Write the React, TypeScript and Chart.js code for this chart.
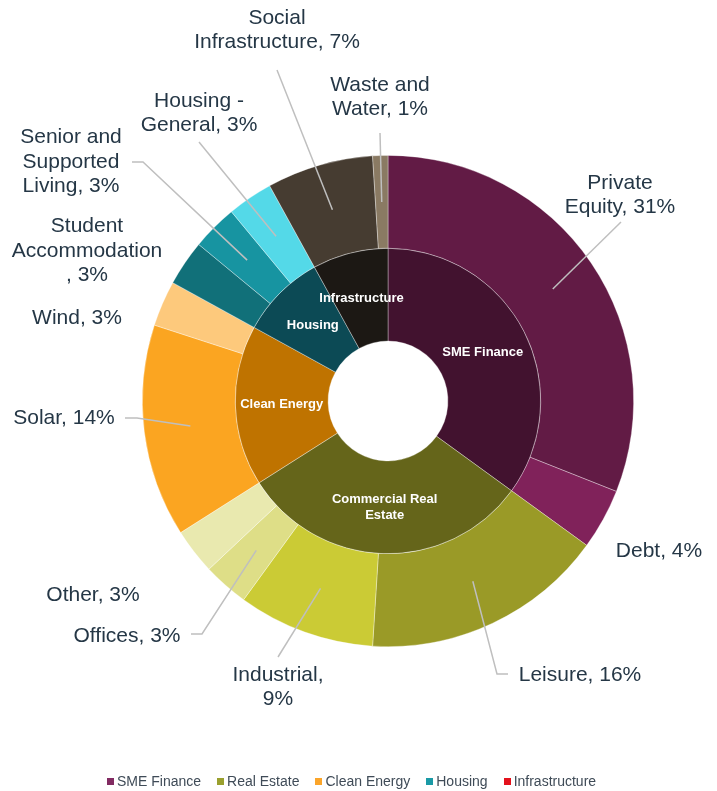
import { useEffect, useRef } from 'react';
import { Chart, registerables } from 'chart.js';
Chart.register(...registerables);

// ---- data ----
const subCategories = [
  'Private Equity', 'Debt', 'Leisure', 'Industrial', 'Offices', 'Other', 'Solar', 'Wind',
  'Student Accommodation', 'Senior and Supported Living', 'Housing - General',
  'Social Infrastructure', 'Waste and Water',
];
const subValues = [31, 4, 16, 9, 3, 3, 14, 3, 3, 3, 3, 7, 1];
const subColors = [
  '#621B45', '#80225A', '#9A9A27', '#CBCB35', '#DEDE87', '#E9E9AF', '#FBA521', '#FDC97C',
  '#117079', '#1794A1', '#54D9E8', '#463C31', '#8A7A63',
];
const categories = ['SME Finance', 'Commercial Real Estate', 'Clean Energy', 'Housing', 'Infrastructure'];
const categoryValues = [35, 31, 17, 9, 8];
const categoryColors = ['#42122F', '#65651A', '#BF7300', '#0C4A55', '#1C1814'];
const legendLabels = ['SME Finance', 'Real Estate', 'Clean Energy', 'Housing', 'Infrastructure'];
const legendColors = ['#822B62', '#9AA02E', '#FBA52A', '#1A9AA6', '#E3121C'];

// ---- layout (label wrapping and placement, relative to chart centre) ----
type Layout = { breaks: string[]; x: number; y: number; end?: [number, number]; elbow?: [number, number] };
const outerLayout: Layout[] = [
  { breaks: ['Equity'], x: 232, y: -206, end: [233, -179] },
  { breaks: [], x: 271, y: 150 },
  { breaks: [], x: 192, y: 274, elbow: [109, 273], end: [120, 273] },
  { breaks: ['$v'], x: -110, y: 286, end: [-110, 256] },
  { breaks: [], x: -261, y: 235, elbow: [-186, 233], end: [-197, 233] },
  { breaks: [], x: -295, y: 194 },
  { breaks: [], x: -324, y: 17, elbow: [-251, 17], end: [-263, 17] },
  { breaks: [], x: -311, y: -83 },
  { breaks: ['Accommodation', '$c'], x: -301, y: -150 },
  { breaks: ['Supported', 'Living'], x: -317, y: -239, elbow: [-245, -239], end: [-256, -239] },
  { breaks: ['General'], x: -189, y: -288, end: [-189, -259] },
  { breaks: ['Infrastructure'], x: -111, y: -371, end: [-111, -331] },
  { breaks: ['Water'], x: -8, y: -304, end: [-8, -268] },
];
const innerBreaks: string[][] = [[], ['Estate'], [], [], []];

function wrapLabel(name: string, value: number | null, breaks: string[]): string[] {
  const lines: string[] = [];
  let cur = '';
  name.split(' ').forEach((w) => {
    if (breaks.includes(w) && cur) {
      lines.push(cur);
      cur = w;
    } else {
      cur = cur ? cur + ' ' + w : w;
    }
  });
  if (value !== null) {
    if (breaks.includes('$c')) {
      lines.push(cur);
      cur = ', ' + value + '%';
    } else if (breaks.includes('$v')) {
      lines.push(cur + ',');
      cur = value + '%';
    } else {
      cur = cur + ', ' + value + '%';
    }
  }
  lines.push(cur);
  return lines;
}

const labelPlugin = {
  id: 'sunburstLabels',
  afterDatasetsDraw(chart: any) {
    const ctx = chart.ctx as CanvasRenderingContext2D;
    const outer = chart.getDatasetMeta(0);
    const inner = chart.getDatasetMeta(1);
    const cx = outer.data[0].x;
    const cy = outer.data[0].y;
    ctx.save();
    ctx.textAlign = 'center';
    ctx.textBaseline = 'middle';

    // inner ring labels
    ctx.fillStyle = '#FFFFFF';
    ctx.font = 'bold 13px "Liberation Sans", Arial, sans-serif';
    inner.data.forEach((arc: any, i: number) => {
      const p = arc.tooltipPosition(false);
      const lines = wrapLabel(categories[i], null, innerBreaks[i]);
      const lh = 16;
      lines.forEach((ln, k) => {
        ctx.fillText(ln, p.x, p.y + (k - (lines.length - 1) / 2) * lh);
      });
    });

    // outer ring labels with leader lines
    ctx.strokeStyle = '#BFBFBF';
    ctx.lineWidth = 1.5;
    outer.data.forEach((arc: any, i: number) => {
      const L = outerLayout[i];
      const p = arc.tooltipPosition(false);
      if (L.end) {
        ctx.beginPath();
        ctx.moveTo(p.x, p.y);
        if (L.elbow) {
          ctx.lineTo(cx + L.elbow[0], cy + L.elbow[1]);
        }
        ctx.lineTo(cx + L.end[0], cy + L.end[1]);
        ctx.stroke();
      }
    });
    ctx.fillStyle = '#253746';
    ctx.font = '21px "Liberation Sans", Arial, sans-serif';
    outer.data.forEach((_arc: any, i: number) => {
      const L = outerLayout[i];
      const lines = wrapLabel(subCategories[i], subValues[i], L.breaks);
      const lh = 24.5;
      lines.forEach((ln, k) => {
        ctx.fillText(ln, cx + L.x, cy + L.y + (k - (lines.length - 1) / 2) * lh);
      });
    });
    ctx.restore();
  },
};

export default function App() {
  const ref = useRef<HTMLCanvasElement | null>(null);
  useEffect(() => {
    document.body.style.margin = '0';
    if (!ref.current) return;
    const chart = new Chart(ref.current, {
      type: 'doughnut',
      data: {
        labels: subCategories,
        datasets: [
          {
            data: subValues,
            backgroundColor: subColors,
            borderColor: 'rgba(255,255,255,0.45)',
            borderWidth: 0.75,
          },
          {
            data: categoryValues,
            backgroundColor: categoryColors,
            borderColor: 'rgba(255,255,255,0.45)',
            borderWidth: 0.75,
          },
        ],
      },
      options: {
        responsive: false,
        animation: false,
        cutout: '24.4%',
        layout: { padding: { left: 142, right: 83, top: 155, bottom: 144 } },
        plugins: {
          legend: { display: false },
          tooltip: { enabled: false },
        },
      },
      plugins: [labelPlugin],
    });
    return () => chart.destroy();
  }, []);

  return (
    <div style={{ position: 'relative', width: 717, height: 791, background: '#FFFFFF' }}>
      <canvas ref={ref} width={717} height={791} style={{ position: 'absolute', left: 0, top: 0 }} />
      <div
        style={{
          position: 'absolute',
          left: 107,
          top: 773,
          display: 'flex',
          gap: 16,
          fontFamily: '"Liberation Sans", Arial, sans-serif',
          fontSize: 14,
          lineHeight: '16px',
          color: '#3F4B57',
          whiteSpace: 'nowrap',
        }}
      >
        {legendLabels.map((l, i) => (
          <div key={l} style={{ display: 'flex', alignItems: 'center' }}>
            <span style={{ display: 'inline-block', width: 7, height: 7, background: legendColors[i], marginRight: 3 }} />
            <span>{l}</span>
          </div>
        ))}
      </div>
    </div>
  );
}
